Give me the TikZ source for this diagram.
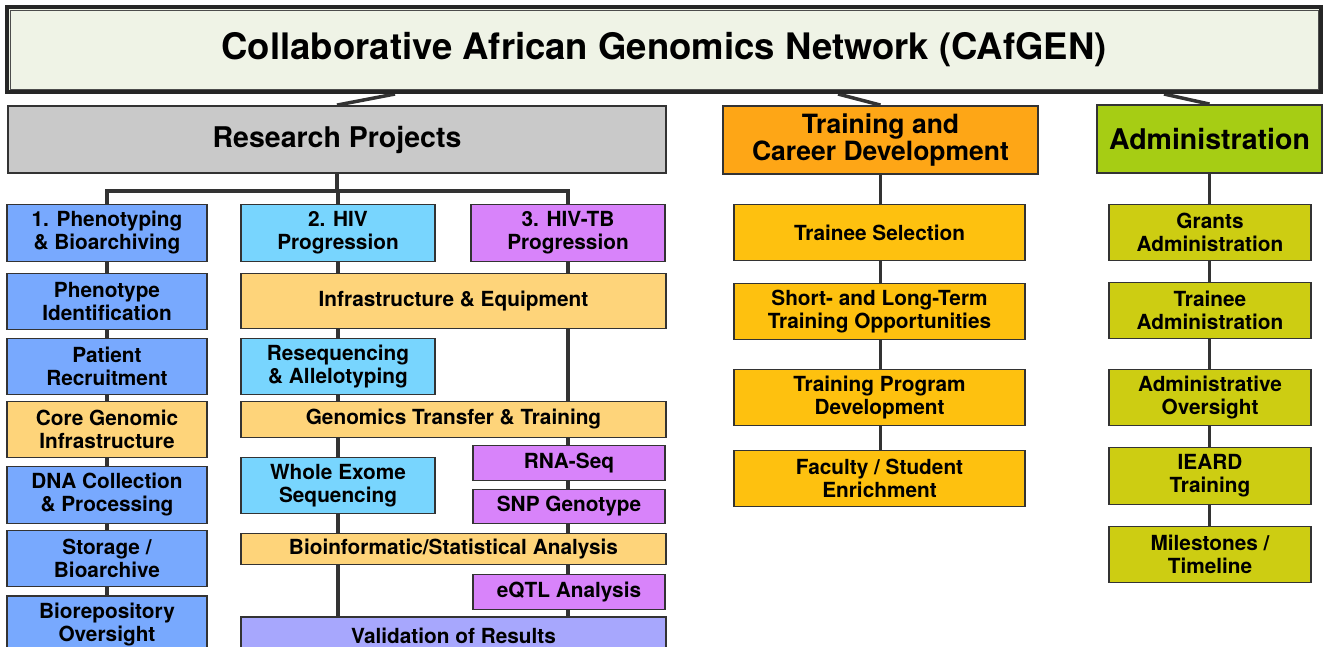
\documentclass[tikz,border=0pt]{standalone}
\usepackage{fontspec}
\setmainfont{TeX Gyre Heros}
\usetikzlibrary{backgrounds}
\definecolor{bordergray}{HTML}{333333}
\definecolor{titlefill}{HTML}{EFF3E6}
\definecolor{rpgray}{HTML}{C9C9C9}
\definecolor{trorange}{HTML}{FEA616}
\definecolor{adlime}{HTML}{A6CD14}
\definecolor{pblue}{HTML}{78A9FE}
\definecolor{hivblue}{HTML}{78D5FE}
\definecolor{tbpurple}{HTML}{D883FA}
\definecolor{lightorange}{HTML}{FED47A}
\definecolor{valpurple}{HTML}{A7A7FD}
\definecolor{tramber}{HTML}{FEC10F}
\definecolor{adolive}{HTML}{CDCD12}
\tikzset{
  box/.style={draw=bordergray, line width=1.8pt, inner sep=0pt, align=center,
    font=\bfseries\fontsize{20.8}{23}\selectfont, text=black},
  headbox/.style={box, font=\bfseries\fontsize{28.5}{26}\selectfont},
  conn/.style={draw=bordergray, line width=3.5pt},
}
\begin{document}
\begin{tikzpicture}[x=1pt,y=-1pt]
\useasboundingbox (0,0) rectangle (1324,647);
\clip (0,0) rectangle (1324,647);

% title
\node[box, line width=4pt, draw=black!85, fill=titlefill, minimum width=1314pt, minimum height=85pt,
  font=\bfseries\fontsize{36.5}{40}\selectfont] (title) at (664,49.5) {Collaborative African Genomics Network (CAfGEN)};
\draw[line width=0.8pt, draw=black!70] ([shift={(5pt,-5pt)}]title.north west) rectangle ([shift={(-5pt,5pt)}]title.south east);

% headers
\node[headbox, fill=rpgray, minimum width=658pt, minimum height=67pt] (rp) at (337,139.5) {Research Projects};
\node[headbox, fill=trorange, minimum width=315pt, minimum height=68pt,
  font=\bfseries\fontsize{26.5}{25}\selectfont] (tr) at (880.5,140) {Training and\\Career Development};
\node[headbox, fill=adlime, minimum width=225pt, minimum height=68pt] (ad) at (1209.5,139) {Administration};

% column 1
\node[box, fill=pblue, minimum width=200pt, minimum height=57pt] (p1) at (107,233) {1. Phenotyping\\\& Bioarchiving};
\node[box, fill=pblue, minimum width=200pt, minimum height=56pt] (p2) at (107,301.5) {Phenotype\\Identification};
\node[box, fill=pblue, minimum width=200pt, minimum height=56pt] (p3) at (107,366.5) {Patient\\Recruitment};
\node[box, fill=lightorange, minimum width=200pt, minimum height=56pt] (p4) at (107,429.5) {Core Genomic\\Infrastructure};
\node[box, fill=pblue, minimum width=200pt, minimum height=57pt] (p5) at (107,495) {DNA Collection\\\& Processing};
\node[box, fill=pblue, minimum width=200pt, minimum height=56pt] (p6) at (107,558.5) {Storage /\\Bioarchive};
\node[box, fill=pblue, minimum width=200pt, minimum height=58pt] (p7) at (107,625) {Biorepository\\Oversight};

% column 2
\node[box, fill=hivblue, minimum width=194pt, minimum height=57pt] (hiv) at (338,233) {2. HIV\\Progression};
\node[box, fill=lightorange, minimum width=425pt, minimum height=55pt] (infra) at (453.5,301) {Infrastructure \& Equipment};
\node[box, fill=hivblue, minimum width=194pt, minimum height=56pt] (reseq) at (338,366.5) {Resequencing\\\& Allelotyping};
\node[box, fill=lightorange, minimum width=425pt, minimum height=36pt] (gtt) at (453.5,419.5) {Genomics Transfer \& Training};
\node[box, fill=hivblue, minimum width=194pt, minimum height=56pt] (wes) at (338,485.5) {Whole Exome\\Sequencing};
\node[box, fill=lightorange, minimum width=425pt, minimum height=31pt] (bsa) at (453.5,549) {Bioinformatic/Statistical Analysis};
\node[box, fill=valpurple, minimum width=425pt, minimum height=38pt] (val) at (453.5,636) {Validation of Results};

% column 3
\node[box, fill=tbpurple, minimum width=194pt, minimum height=57pt] (hivtb) at (568,233) {3. HIV-TB\\Progression};
\node[box, fill=tbpurple, minimum width=192pt, minimum height=35pt] (rna) at (569,463) {RNA-Seq};
\node[box, fill=tbpurple, minimum width=192pt, minimum height=34pt] (snp) at (569,506.5) {SNP Genotype};
\node[box, fill=tbpurple, minimum width=192pt, minimum height=35pt] (eqtl) at (569,592) {eQTL Analysis};

% training column
\node[box, fill=tramber, minimum width=291pt, minimum height=56pt] (ts) at (879.5,232.5) {Trainee Selection};
\node[box, fill=tramber, minimum width=291pt, minimum height=56pt] (sl) at (879.5,311.5) {Short- and Long-Term\\Training Opportunities};
\node[box, fill=tramber, minimum width=291pt, minimum height=56pt] (tp) at (879.5,397.5) {Training Program\\Development};
\node[box, fill=tramber, minimum width=291pt, minimum height=56pt] (fs) at (879.5,478.5) {Faculty / Student\\Enrichment};

% administration column
\node[box, fill=adolive, minimum width=202pt, minimum height=56pt] (ga) at (1210,232.5) {Grants\\Administration};
\node[box, fill=adolive, minimum width=202pt, minimum height=56pt] (ta) at (1210,310.5) {Trainee\\Administration};
\node[box, fill=adolive, minimum width=202pt, minimum height=56pt] (ao) at (1210,397.5) {Administrative\\Oversight};
\node[box, fill=adolive, minimum width=202pt, minimum height=57pt] (ie) at (1210,476) {IEARD\\Training};
\node[box, fill=adolive, minimum width=202pt, minimum height=56pt] (ms) at (1210,554.5) {Milestones /\\Timeline};

\coordinate (bar) at (340,191);

\begin{pgfonlayer}{background}
  \draw[conn] ([xshift=-269pt]title.south) -- (rp.north);
  \draw[conn] ([xshift=174pt]title.south) -- (tr.north);
  \draw[conn] ([xshift=500pt]title.south) -- (ad.north);
  \draw[conn] (rp.south) -- (rp.south |- bar);
  \draw[conn] (p1.north) -- (p1.north |- bar) -- (hivtb.north |- bar) -- (hivtb.north);
  \draw[conn] (hiv.north) -- (hiv.north |- bar);
  \draw[conn] (p1.center) -- (p7.center);
  \draw[conn] (hiv.center) -- (hiv.center |- val.center);
  \draw[conn] (hivtb.center) -- (hivtb.center |- val.center);
  \draw[conn] (tr.center) -- (tr.center |- fs.center);
  \draw[conn] (ad.center) -- (ad.center |- ms.center);
\end{pgfonlayer}
\end{tikzpicture}
\end{document}
